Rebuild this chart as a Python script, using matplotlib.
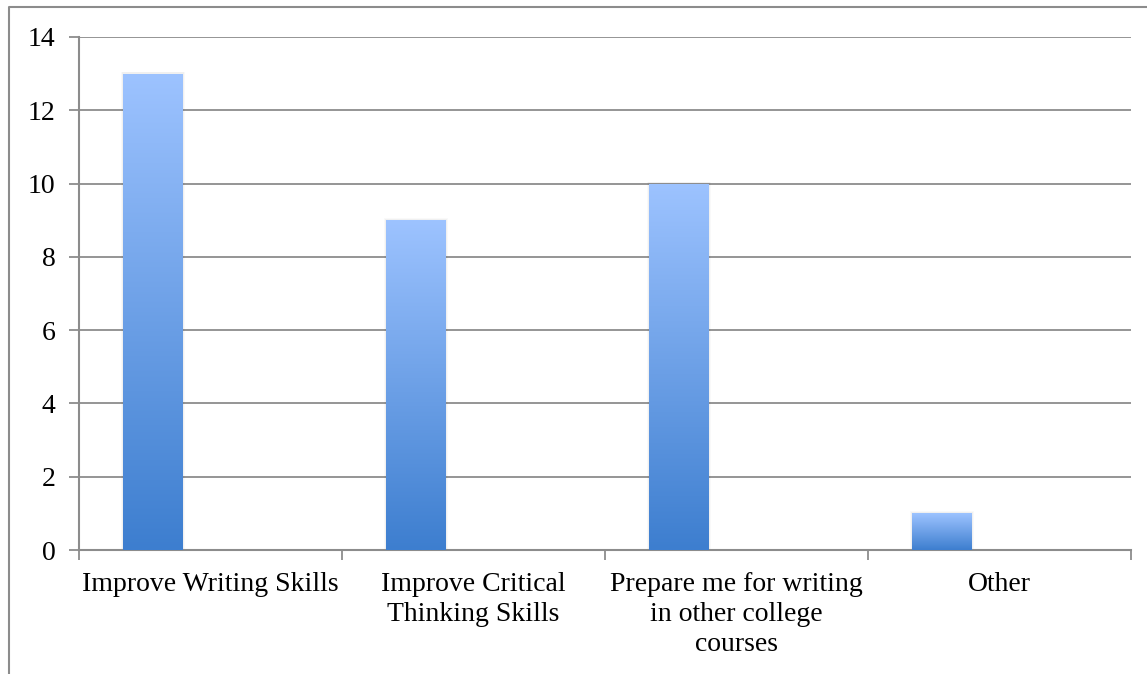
import numpy as np
import matplotlib
matplotlib.use("Agg")
import matplotlib.pyplot as plt
from matplotlib.colors import LinearSegmentedColormap
from matplotlib.lines import Line2D
from matplotlib.patches import Rectangle

categories = ["Improve Writing Skills",
              "Improve Critical\nThinking Skills",
              "Prepare me for writing\nin other college\ncourses",
              "Other"]
values = [13, 9, 10, 1]
yticks = [0, 2, 4, 6, 8, 10, 12, 14]

plt.rcParams['font.family'] = ['Liberation Serif', 'DejaVu Serif']

fig = plt.figure(figsize=(11.47, 6.74), dpi=100)
ax = fig.add_axes([79/1147, 1-550/674, (1131-79)/1147, (550-37)/674])

gray = '#8c8c8c'
# figure border (left and top)
fig.add_artist(Line2D([9/1147, 9/1147, 1.0], [0.0, 1-7/674, 1-7/674],
                      transform=fig.transFigure, color=gray, lw=1.5))

cmap = LinearSegmentedColormap.from_list('g', ['#3d7ecf', '#9dc3ff'])
grad = np.linspace(0, 1, 256).reshape(-1, 1)

width = 0.228
offset = -0.22
x = np.arange(len(values))
for xi, v in zip(x, values):
    x0 = xi + offset - width/2
    # soft shadow
    for k, a in enumerate([0.035, 0.025]):
        d = 0.004 * (k + 1)
        sh = Rectangle((x0 - d, 0), width + 2*d, v + 0.02 + d*4, facecolor='black',
                       edgecolor='none', alpha=a, zorder=2)
        ax.add_patch(sh)
    rect = Rectangle((x0, 0), width, v, facecolor='none', edgecolor='none', zorder=3)
    ax.add_patch(rect)
    im = ax.imshow(grad, cmap=cmap, origin='lower', aspect='auto',
                   extent=[x0, x0 + width, 0, v], zorder=3, interpolation='bilinear')
    im.set_clip_path(rect)

ax.set_xlim(-0.5, len(values) - 0.5)
ax.set_ylim(0, 14)
ax.set_yticks(yticks)
ax.set_yticklabels([str(t) for t in yticks], fontsize=20)
ax.yaxis.grid(True, color=gray, lw=1.3, zorder=1)
ax.set_axisbelow(True)

ax.set_xticks(np.arange(-0.5, len(values)), minor=False)
ax.set_xticklabels([])
ax.set_xticks(x, minor=True)
ax.set_xticklabels(categories, minor=True, fontsize=20, linespacing=1.25, va='top')
ax.tick_params(axis='x', which='major', length=7, width=1.3, color=gray, direction='out')
ax.tick_params(axis='x', which='minor', length=0, pad=16)
ax.tick_params(axis='y', length=7, width=1.3, color=gray, direction='out', pad=10)

for s in ['top', 'right']:
    ax.spines[s].set_visible(False)
for s in ['left', 'bottom']:
    ax.spines[s].set_color(gray)
    ax.spines[s].set_linewidth(1.5)

fig.savefig('out.png', dpi=100, facecolor='white')
